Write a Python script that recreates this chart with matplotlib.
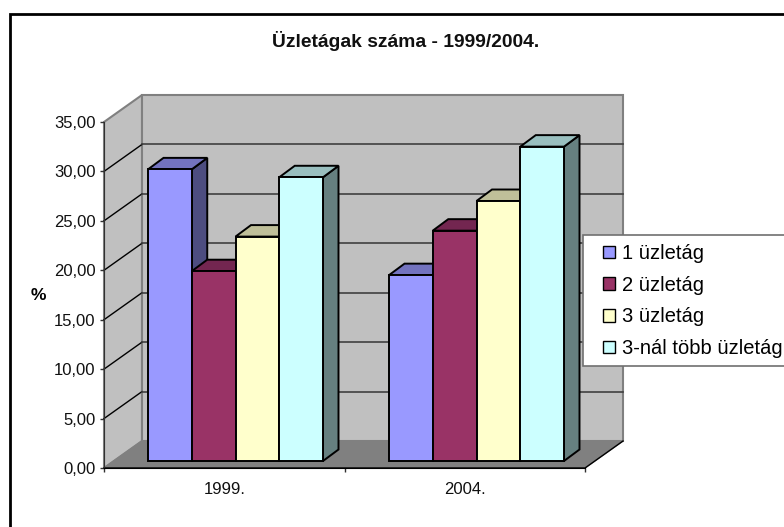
import matplotlib
matplotlib.use("Agg")
import matplotlib.pyplot as plt
from matplotlib.patches import Rectangle

plt.rcParams['font.family'] = ['Liberation Sans', 'DejaVu Sans']

# Data
years = ["1999.", "2004."]
series = ["1 üzletág", "2 üzletág", "3 üzletág", "3-nál több üzletág"]
vals_1999 = [29.5, 19.2, 22.7, 28.7]
vals_2004 = [18.8, 23.3, 26.3, 31.8]
colors = ["#9999ff", "#993366", "#ffffcc", "#ccffff"]
tops = ["#7373bf", "#732650", "#bfbf99", "#99bfbf"]
sides = ["#4d4d80", "#4d1a33", "#808066", "#668080"]
yticks = [0, 5, 10, 15, 20, 25, 30, 35]

W, H = 784, 527
fig = plt.figure(figsize=(W / 100, H / 100), dpi=100, facecolor="white")

# page frame, only left and top fall inside the picture
fig.add_artist(plt.Line2D([9.5 / W, 9.5 / W, 1], [0, 1 - 14 / H, 1 - 14 / H], color="black",
                          lw=2, transform=fig.transFigure, solid_joinstyle="miter"))

# axes is the front plane of the 3D box
ax = fig.add_axes([104 / W, 1 - 468 / H, 481 / W, 346 / H])
ax.set_xlim(0, 2)
ax.set_ylim(0, 35)
ax.patch.set_visible(False)
for s in ["top", "right"]:
    ax.spines[s].set_visible(False)
ax.spines["left"].set_color("#303030")
ax.spines["left"].set_zorder(2)
ax.spines["bottom"].set_zorder(2)

# depth vector in data units
DX = 38 / 481 * 2
DY = 27 / 346 * 35


def box(x, y, **kw):
    ax.fill(x, y, clip_on=False, **kw)


# walls and floor
box([0, DX, DX, 0], [0, DY, 35 + DY, 35], fc="#c0c0c0", ec="#808080", lw=1.5, zorder=1)
box([DX, 2 + DX, 2 + DX, DX], [DY, DY, 35 + DY, 35 + DY], fc="#c0c0c0", ec="#808080", lw=1.5, zorder=1)
box([0, 2, 2 + DX, DX], [0, 0, DY, DY], fc="#808080", ec="#808080", lw=1, zorder=1.6)
ax.plot([0, 2, 2 + DX], [0, 0, DY], color="black", lw=1, clip_on=False, zorder=2)

for v in yticks[1:-1]:
    ax.plot([0, DX], [v, v + DY], color="black", lw=1, clip_on=False, zorder=1.5)
    ax.plot([DX, 2 + DX], [v + DY, v + DY], color="#404040", lw=1.2, clip_on=False, zorder=1.5)

# bars
bar_w = 43.75 / 481 * 2
start = [(148 - 104) / 481 * 2, (389 - 104) / 481 * 2]
d0 = 7 / 27
bar_dx = 15.5 / 481 * 2
bar_dy = 11.5 / 346 * 35
y0 = d0 * DY

z = 3
for left, vals in zip(start, [vals_1999, vals_2004]):
    for i, v in enumerate(vals):
        x0 = left + i * bar_w
        x1 = x0 + bar_w
        top = y0 + v
        box([x1, x1 + bar_dx, x1 + bar_dx, x1], [y0, y0 + bar_dy, top + bar_dy, top],
            fc=sides[i], ec="black", lw=1.4, zorder=z)
        box([x0, x1, x1 + bar_dx, x0 + bar_dx], [top, top, top + bar_dy, top + bar_dy],
            fc=tops[i], ec="black", lw=1.4, zorder=z)
        box([x0, x1, x1, x0], [y0, y0, top, top], fc=colors[i], ec="black", lw=1.4, zorder=z + 0.5)
        z += 1

ax.set_yticks(yticks)
ax.set_yticklabels([f"{v:.2f}".replace(".", ",") for v in yticks], fontsize=12, color="#101010")
ax.set_xticks([0, 1, 2])
ax.set_xticklabels([])
ax.set_xticks([0.5, 1.5], minor=True)
ax.set_xticklabels(years, minor=True, fontsize=12, color="#101010")
ax.tick_params(axis="x", which="minor", length=0, pad=10)
ax.tick_params(axis="both", which="major", length=3, width=1, pad=3, color="#303030")
ax.set_ylabel("%", fontsize=12.5, fontweight="bold", rotation=0, va="center", ha="center")
ax.yaxis.set_label_coords((38 - 104) / 481, (468 - 295) / 346)

fig.text(406 / W, 1 - 41 / H, "Üzletágak száma - 1999/2004.", ha="center", va="center",
         fontsize=13.9, fontweight="bold", color="#101010")

# legend box runs off the right edge like the reference
fig.add_artist(Rectangle((583 / W, 1 - 366 / H), 220 / W, 131 / H, fc="white", ec="#707070", lw=1.2,
                         transform=fig.transFigure, zorder=90))
handles = [Rectangle((0, 0), 1, 1, fc=c, ec="black", lw=1) for c in colors]
leg = fig.legend(handles, series, loc="upper left", bbox_to_anchor=(603 / W, 1 - 244 / H),
                 bbox_transform=fig.transFigure, fontsize=14.5, frameon=False,
                 handlelength=0.6, handleheight=0.6,
                 handletextpad=0.35, labelspacing=0.63, borderaxespad=0, borderpad=0)
leg.set_zorder(100)

fig.savefig("out.png", dpi=100)
